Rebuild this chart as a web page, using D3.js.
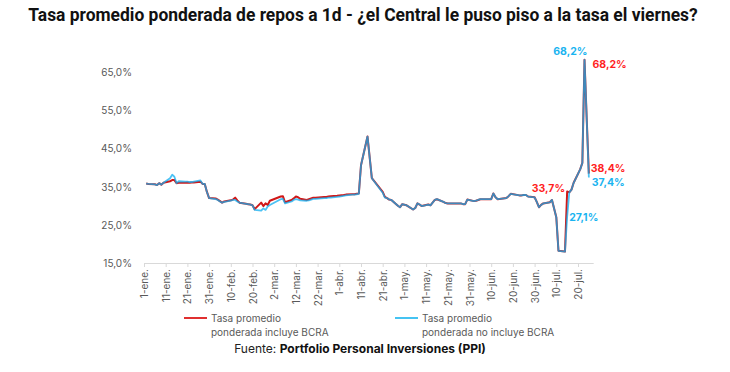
<!DOCTYPE html>
<html><head><meta charset="utf-8">
<script src="https://cdn.jsdelivr.net/npm/d3@7"></script>
<style>
html,body{margin:0;padding:0;background:#fff;}
svg{display:block;}
</style></head>
<body>
<svg id="chart" width="730" height="372"></svg>
<script>
const title = "Tasa promedio ponderada de repos a 1d - ¿el Central le puso piso a la tasa el viernes?";
const seriesNames = ["Tasa promedio ponderada incluye BCRA", "Tasa promedio ponderada no incluye BCRA"];
const dates = ["2025-01-02","2025-01-03","2025-01-06","2025-01-07","2025-01-08","2025-01-09","2025-01-10",
"2025-01-13","2025-01-14","2025-01-15","2025-01-16","2025-01-17","2025-01-20","2025-01-21","2025-01-22","2025-01-23","2025-01-24",
"2025-01-27","2025-01-28","2025-01-29","2025-01-30","2025-01-31",
"2025-02-03","2025-02-04","2025-02-05","2025-02-06","2025-02-07","2025-02-10","2025-02-11","2025-02-12","2025-02-13","2025-02-14",
"2025-02-17","2025-02-18","2025-02-19","2025-02-20","2025-02-21","2025-02-24","2025-02-25","2025-02-26","2025-02-27","2025-02-28",
"2025-03-05","2025-03-06","2025-03-07","2025-03-10","2025-03-11","2025-03-12","2025-03-13","2025-03-14",
"2025-03-17","2025-03-18","2025-03-19","2025-03-20","2025-03-21","2025-03-25","2025-03-26","2025-03-27","2025-03-28",
"2025-03-31","2025-04-01","2025-04-03","2025-04-04","2025-04-07","2025-04-08","2025-04-09","2025-04-10","2025-04-11",
"2025-04-14","2025-04-16","2025-04-21","2025-04-22","2025-04-23","2025-04-24","2025-04-25","2025-04-28","2025-04-29","2025-04-30",
"2025-05-02","2025-05-05","2025-05-06","2025-05-07","2025-05-08","2025-05-09","2025-05-12","2025-05-13","2025-05-14","2025-05-15","2025-05-16",
"2025-05-19","2025-05-20","2025-05-21","2025-05-22","2025-05-23","2025-05-26","2025-05-27","2025-05-28","2025-05-29","2025-05-30",
"2025-06-02","2025-06-03","2025-06-04","2025-06-05","2025-06-06","2025-06-09","2025-06-10","2025-06-11","2025-06-12","2025-06-13",
"2025-06-17","2025-06-18","2025-06-19","2025-06-23","2025-06-24","2025-06-25","2025-06-26","2025-06-27",
"2025-06-30","2025-07-01","2025-07-02","2025-07-03","2025-07-04","2025-07-07","2025-07-08","2025-07-10","2025-07-11",
"2025-07-14","2025-07-15","2025-07-16","2025-07-17","2025-07-18","2025-07-21","2025-07-22","2025-07-23","2025-07-24","2025-07-25"];
const incluyeBCRA = [35.8,35.7,35.6,35.4,35.9,35.5,36.0,
36.4,36.7,36.7,35.9,36.0,36.0,36.1,36.0,36.1,36.1,
36.3,35.7,35.7,33.6,32.0,
31.9,31.6,31.2,30.8,31.1,31.4,31.6,32.1,31.4,30.8,
30.5,30.4,30.3,30.1,29.1,30.8,29.9,30.6,30.2,31.3,
32.4,32.5,30.9,31.5,31.9,32.4,32.2,31.8,
31.5,31.7,31.9,32.1,32.1,32.3,32.3,32.4,32.5,
32.6,32.7,32.8,32.9,33.0,33.0,33.1,33.2,40.6,
48.1,37.2,33.6,32.3,32.0,31.6,31.5,30.0,29.6,30.4,
30.1,29.0,29.4,30.6,30.3,29.9,30.3,30.1,30.8,31.5,31.7,
31.0,30.7,30.6,30.6,30.6,30.6,30.6,30.4,30.4,31.6,
31.2,31.3,31.5,31.7,31.7,31.7,31.7,33.2,32.2,31.7,
32.0,32.5,33.1,32.7,32.7,32.8,32.8,32.4,
32.2,31.0,29.6,30.2,30.6,30.9,31.5,27.0,18.2,
18.0,33.7,33.5,34.2,36.0,39.5,41.2,68.2,53.0,38.4];
const noIncluyeBCRA = [35.8,35.7,35.6,35.4,35.9,35.5,36.0,
37.2,38.1,37.6,35.9,36.4,36.3,36.3,36.2,36.2,36.3,
36.6,35.7,35.7,33.6,32.0,
31.7,31.5,31.1,30.8,31.0,31.3,31.5,31.5,31.1,30.8,
30.5,30.4,30.3,30.1,28.9,28.7,29.3,28.9,29.8,30.2,
31.7,31.8,30.6,31.1,31.5,31.7,31.6,31.4,
31.3,31.4,31.6,31.8,31.8,32.0,32.0,32.1,32.1,
32.3,32.4,32.6,32.7,32.9,32.9,33.0,33.1,40.6,
48.1,37.2,33.4,32.1,32.0,31.6,31.5,30.0,29.6,30.4,
30.1,29.0,29.4,30.6,30.3,29.9,30.3,30.1,30.8,31.5,31.7,
31.0,30.7,30.6,30.6,30.6,30.6,30.6,30.4,30.4,31.6,
31.2,31.3,31.5,31.7,31.7,31.7,31.7,33.2,32.2,31.7,
32.0,32.5,33.1,32.7,32.7,32.8,32.8,32.4,
32.2,31.0,29.6,30.2,30.6,30.9,31.5,27.0,18.2,
18.0,27.1,33.5,34.2,36.0,39.5,41.2,68.2,53.0,37.4];
const xTickDates = ["2025-01-01","2025-01-11","2025-01-21","2025-01-31","2025-02-10","2025-02-20","2025-03-02","2025-03-12",
"2025-03-22","2025-04-01","2025-04-11","2025-04-21","2025-05-01","2025-05-11","2025-05-21","2025-05-31","2025-06-10","2025-06-20",
"2025-06-30","2025-07-10","2025-07-20"];
const xTickLabels = ["1-ene.","11-ene.","21-ene.","31-ene.","10-feb.","20-feb.","2-mar.","12-mar.","22-mar.","1-abr.","11-abr.",
"21-abr.","1-may.","11-may.","21-may.","31-may.","10-jun.","20-jun.","30-jun.","10-jul.","20-jul."];
const yTicks = [15,25,35,45,55,65];
const yTickLabels = ["15,0%","25,0%","35,0%","45,0%","55,0%","65,0%"];
const labelledRed = [{date:"2025-07-15", text:"33,7%"},{date:"2025-07-23", text:"68,2%"},{date:"2025-07-25", text:"38,4%"}];
const labelledBlue = [{date:"2025-07-15", text:"27,1%"},{date:"2025-07-23", text:"68,2%"},{date:"2025-07-25", text:"37,4%"}];

const RED = "#d01818", BLUE = "#10aef0";
const LRED = "#ff1f1f", LBLUE = "#1ab4f0";
const parse = d3.utcParse("%Y-%m-%d");
const svg = d3.select("#chart");
const font = "Inter, 'Noto Sans', sans-serif";

const x = d3.scaleUtc().domain([parse("2025-01-01"), parse("2025-07-27")]).range([144, 144 + 207*2.17]);
const y = d3.scaleLinear().domain([15, 75]).range([263, 263 - 60*3.82]);

// title
const t = svg.append("text").attr("x", 363).attr("y", 21).attr("text-anchor","middle")
  .attr("font-family","Roboto, sans-serif").attr("font-weight",700).attr("font-size",15).attr("fill","#111").text(title);
const tw = t.node().getComputedTextLength();
t.attr("font-size", 15 * 670 / tw);

// y axis
const yAxis = d3.axisLeft(y).tickValues(yTicks).tickFormat((d,i)=>yTickLabels[i]).tickSize(0).tickPadding(0);
const gy = svg.append("g").attr("transform","translate(132,0)").call(yAxis);
gy.select(".domain").remove();
gy.selectAll("text").attr("font-family",font).attr("font-size",10).attr("fill","#595959").attr("dy","0.35em");

// x axis
const xAxis = d3.axisBottom(x).tickValues(xTickDates.map(parse)).tickFormat((d,i)=>xTickLabels[i]).tickSize(4).tickSizeOuter(0);
const gx = svg.append("g").attr("transform","translate(0,263)").call(xAxis);
gx.select(".domain").attr("stroke","#d9d9d9");
gx.selectAll(".tick line").attr("stroke","#d9d9d9");
gx.selectAll(".tick text").attr("font-family",font).attr("font-size",10).attr("fill","#595959")
  .attr("text-anchor","end").attr("transform","rotate(-90)").attr("x",-6).attr("y",0).attr("dy","0.35em");

// lines
const redData = dates.map((d,i)=>({date:parse(d), v:incluyeBCRA[i]}));
const blueData = dates.map((d,i)=>({date:parse(d), v:noIncluyeBCRA[i]}));
const line = d3.line().x(d=>x(d.date)).y(d=>y(d.v));
svg.append("path").datum(redData).attr("d",line).attr("fill","none").attr("stroke",RED).attr("stroke-width",2).attr("stroke-linejoin","round");
svg.append("path").datum(blueData).attr("d",line).attr("fill","none").attr("stroke",BLUE).attr("stroke-width",1.8).attr("stroke-linejoin","round").attr("stroke-opacity",0.75);

// data labels
function val(arr, ds){ return arr[dates.indexOf(ds)]; }
const lblStyle = s => s.attr("font-family",font).attr("font-weight",700).attr("font-size",10.5);
const redPos = [{dx:-2, dy:0, anchor:"end"},{dx:8, dy:8, anchor:"start"},{dx:2, dy:-2, anchor:"start"}];
const bluePos = [{dx:2, dy:4, anchor:"start"},{dx:3, dy:-5, anchor:"end"},{dx:3, dy:9, anchor:"start"}];
labelledRed.forEach((l,i)=>{
  const p = redPos[i];
  svg.append("text").call(lblStyle).attr("fill",LRED).attr("text-anchor",p.anchor)
    .attr("x", x(parse(l.date))+p.dx).attr("y", y(val(incluyeBCRA,l.date))+p.dy).text(l.text);
});
labelledBlue.forEach((l,i)=>{
  const p = bluePos[i];
  svg.append("text").call(lblStyle).attr("fill",LBLUE).attr("text-anchor",p.anchor)
    .attr("x", x(parse(l.date))+p.dx).attr("y", y(val(noIncluyeBCRA,l.date))+p.dy).text(l.text);
});

// legend
const legend = [{x:184, color:"#e03030", lines:["Tasa promedio","ponderada incluye BCRA"]},
                {x:395, color:"#45c3f2", lines:["Tasa promedio","ponderada no incluye BCRA"]}];
legend.forEach((l,i)=>{
  svg.append("line").attr("x1",l.x).attr("x2",l.x+23).attr("y1",318).attr("y2",318).attr("stroke",l.color).attr("stroke-width",2);
  const tx = svg.append("text").attr("font-family",font).attr("font-size",10).attr("fill","#595959");
  l.lines.forEach((s,j)=>tx.append("tspan").attr("x",l.x+27).attr("y",322+j*13.5).text(s));
});

// source
const src = svg.append("text").attr("x",360).attr("y",353).attr("text-anchor","middle")
  .attr("font-family",font).attr("font-size",12).attr("fill","#222");
src.append("tspan").text("Fuente: ");
src.append("tspan").attr("font-weight",700).attr("fill","#111").text("Portfolio Personal Inversiones (PPI)");
</script>
</body></html>
